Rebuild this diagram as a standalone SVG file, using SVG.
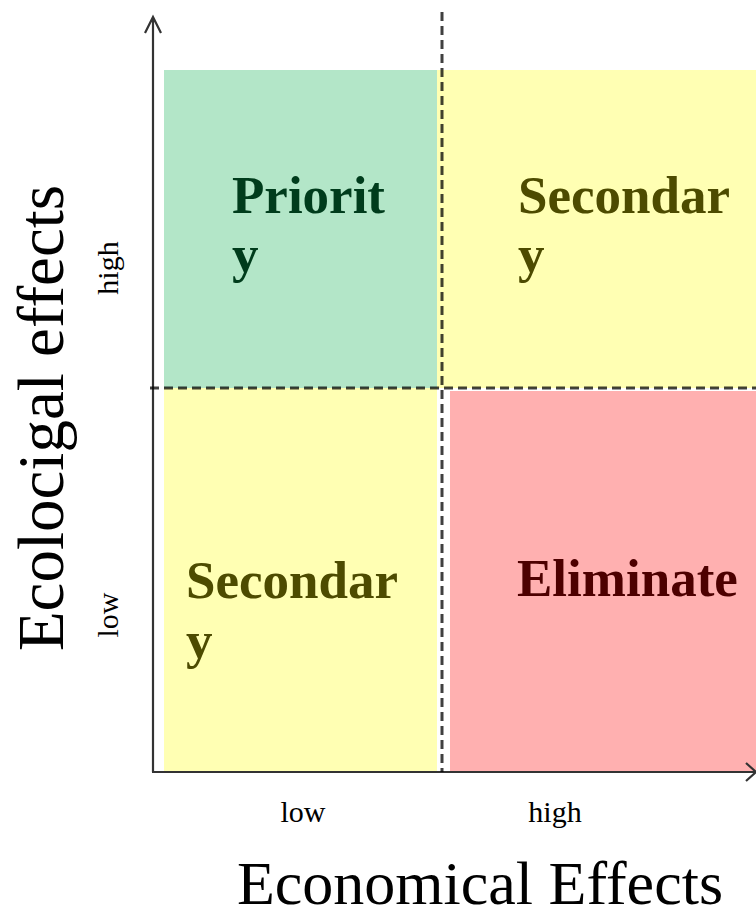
<svg xmlns="http://www.w3.org/2000/svg" width="756" height="917" viewBox="0 0 756 917">
<style>
.q{font-family:"Liberation Serif","Times New Roman",serif;font-weight:bold;font-size:53px}
.lab{font-family:"Liberation Serif","Times New Roman",serif;font-size:30px;fill:#000}
.big{font-family:"Liberation Serif","Times New Roman",serif;fill:#000}
.axis{stroke:#333;stroke-width:2.2;fill:none}
.dash{stroke:#000;stroke-width:3;stroke-dasharray:9 5;fill:none;opacity:0.75}
</style>
<rect width="756" height="917" fill="#fff"/>
<g id="priority">
<rect x="164" y="70" width="273" height="318" fill="#b3e6c8"/>
<text class="q" x="232" y="213" fill="#003c1c">Priorit</text>
<text class="q" x="232" y="272" fill="#003c1c">y</text>
</g>
<g id="secondary-top">
<rect x="437" y="70" width="319" height="318" fill="#ffffb3"/>
<text class="q" x="518" y="213" fill="#4d4b00">Secondar</text>
<text class="q" x="518" y="272" fill="#4d4b00">y</text>
</g>
<g id="secondary-bottom">
<rect x="164" y="388" width="273" height="384" fill="#ffffb3"/>
<text class="q" x="186" y="598" fill="#4d4b00">Secondar</text>
<text class="q" x="186" y="658" fill="#4d4b00">y</text>
</g>
<g id="eliminate">
<rect x="450" y="391" width="306" height="381" fill="#ffb0b0"/>
<text class="q" x="517" y="596" fill="#4d0000">Eliminate</text>
</g>
<g id="connectors">
<path class="axis" d="M153 772 V17 M145 33 L153 17 L161 33"/>
<path class="axis" d="M152 772 H756 M746 763 L756 772 L746 781"/>
<path class="dash" d="M442 12 V772"/>
<path class="dash" d="M150 388 H756"/>
</g>
<g id="labels">
<text class="lab" text-anchor="middle" transform="translate(118 268) rotate(-90)">high</text>
<text class="lab" text-anchor="middle" transform="translate(118 615) rotate(-90)">low</text>
<text class="lab" x="303" y="822" text-anchor="middle">low</text>
<text class="lab" x="555" y="822" text-anchor="middle">high</text>
<text class="big" font-size="65" text-anchor="middle" transform="translate(63 418) rotate(-90)">Ecolocigal effects</text>
<text class="big" font-size="62" x="480" y="904" text-anchor="middle">Economical Effects</text>
</g>
</svg>
